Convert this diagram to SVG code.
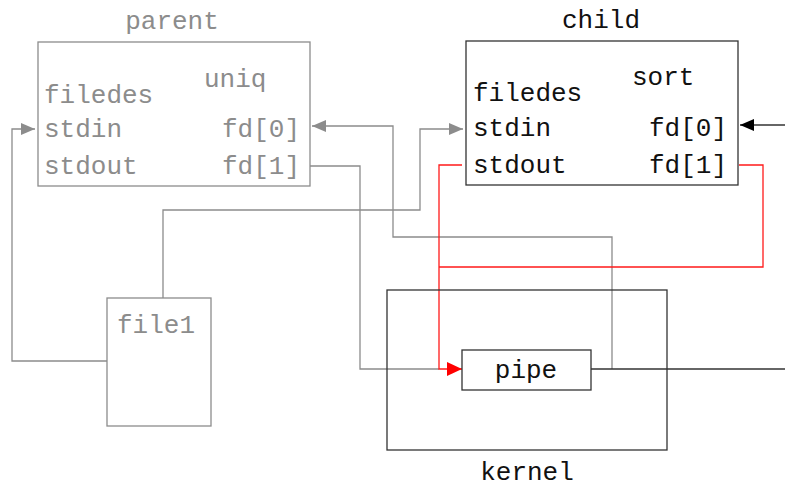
<svg xmlns="http://www.w3.org/2000/svg" width="785" height="488" viewBox="0 0 785 488">
<style>
text{font-family:"Liberation Mono","DejaVu Sans Mono",monospace;font-size:26px}
.g{fill:#8c8c8c}
.k{fill:#111}
.boxg{fill:#fff;stroke:#8c8c8c;stroke-width:1.3}
.boxk{fill:#fff;stroke:#333;stroke-width:1.3}
.lg{fill:none;stroke:#8c8c8c;stroke-width:1.3}
.lr{fill:none;stroke:#ff1a1a;stroke-width:1.3}
.lk{fill:none;stroke:#333;stroke-width:1.3}
.end{text-anchor:end}
.mid{text-anchor:middle}
</style>
<defs>
<marker id="ag" markerUnits="userSpaceOnUse" markerWidth="14" markerHeight="12" refX="14" refY="6" orient="auto"><path d="M0,0L14,6L0,12z" fill="#8c8c8c"/></marker>
<marker id="ar" markerUnits="userSpaceOnUse" markerWidth="15" markerHeight="14" refX="15" refY="7" orient="auto"><path d="M0,0L15,7L0,14z" fill="#ff0000"/></marker>
<marker id="ak" markerUnits="userSpaceOnUse" markerWidth="14" markerHeight="12" refX="14" refY="6" orient="auto"><path d="M0,0L14,6L0,12z" fill="#000"/></marker>
</defs>
<g id="connectors">
<path class="lg" d="M107,361H12V129H35" marker-end="url(#ag)"/>
<path class="lg" d="M163,298V210H420V129H463" marker-end="url(#ag)"/>
<path class="lg" d="M612,369V237H393V126H312" marker-end="url(#ag)"/>
<path class="lg" d="M310,166H360V369H439"/>
<path class="lr" d="M462,165H439V369H462" marker-end="url(#ar)"/>
<path class="lr" d="M739,165H763V267H439"/>
<path class="lk" d="M591,369H785"/>
<path class="lk" d="M785,125H740" marker-end="url(#ak)"/>
</g>
<g id="parent">
<rect class="boxg" x="38" y="42" width="272" height="144"/>
<text class="g mid" x="172" y="29">parent</text>
<text class="g" x="204" y="87">uniq</text>
<text class="g" x="44" y="103">filedes</text>
<text class="g" x="44" y="137">stdin</text>
<text class="g" x="44" y="174">stdout</text>
<text class="g end" x="300" y="137">fd[0]</text>
<text class="g end" x="300" y="174">fd[1]</text>
</g>
<g id="child">
<rect class="boxk" x="466" y="41" width="272" height="144"/>
<text class="k mid" x="601" y="28">child</text>
<text class="k" x="632" y="85">sort</text>
<text class="k" x="473" y="101">filedes</text>
<text class="k" x="473" y="136">stdin</text>
<text class="k" x="473" y="173">stdout</text>
<text class="k end" x="727" y="136">fd[0]</text>
<text class="k end" x="727" y="173">fd[1]</text>
</g>
<g id="file1">
<rect class="boxg" x="107" y="298" width="104" height="128"/>
<text class="g" x="117" y="333">file1</text>
</g>
<g id="kernel">
<rect class="boxk" x="387" y="290" width="280" height="160" style="fill:none"/>
<text class="k mid" x="527" y="480">kernel</text>
</g>
<g id="pipe">
<rect class="boxk" x="462" y="350" width="129" height="40"/>
<text class="k mid" x="526" y="378">pipe</text>
</g>
</svg>
